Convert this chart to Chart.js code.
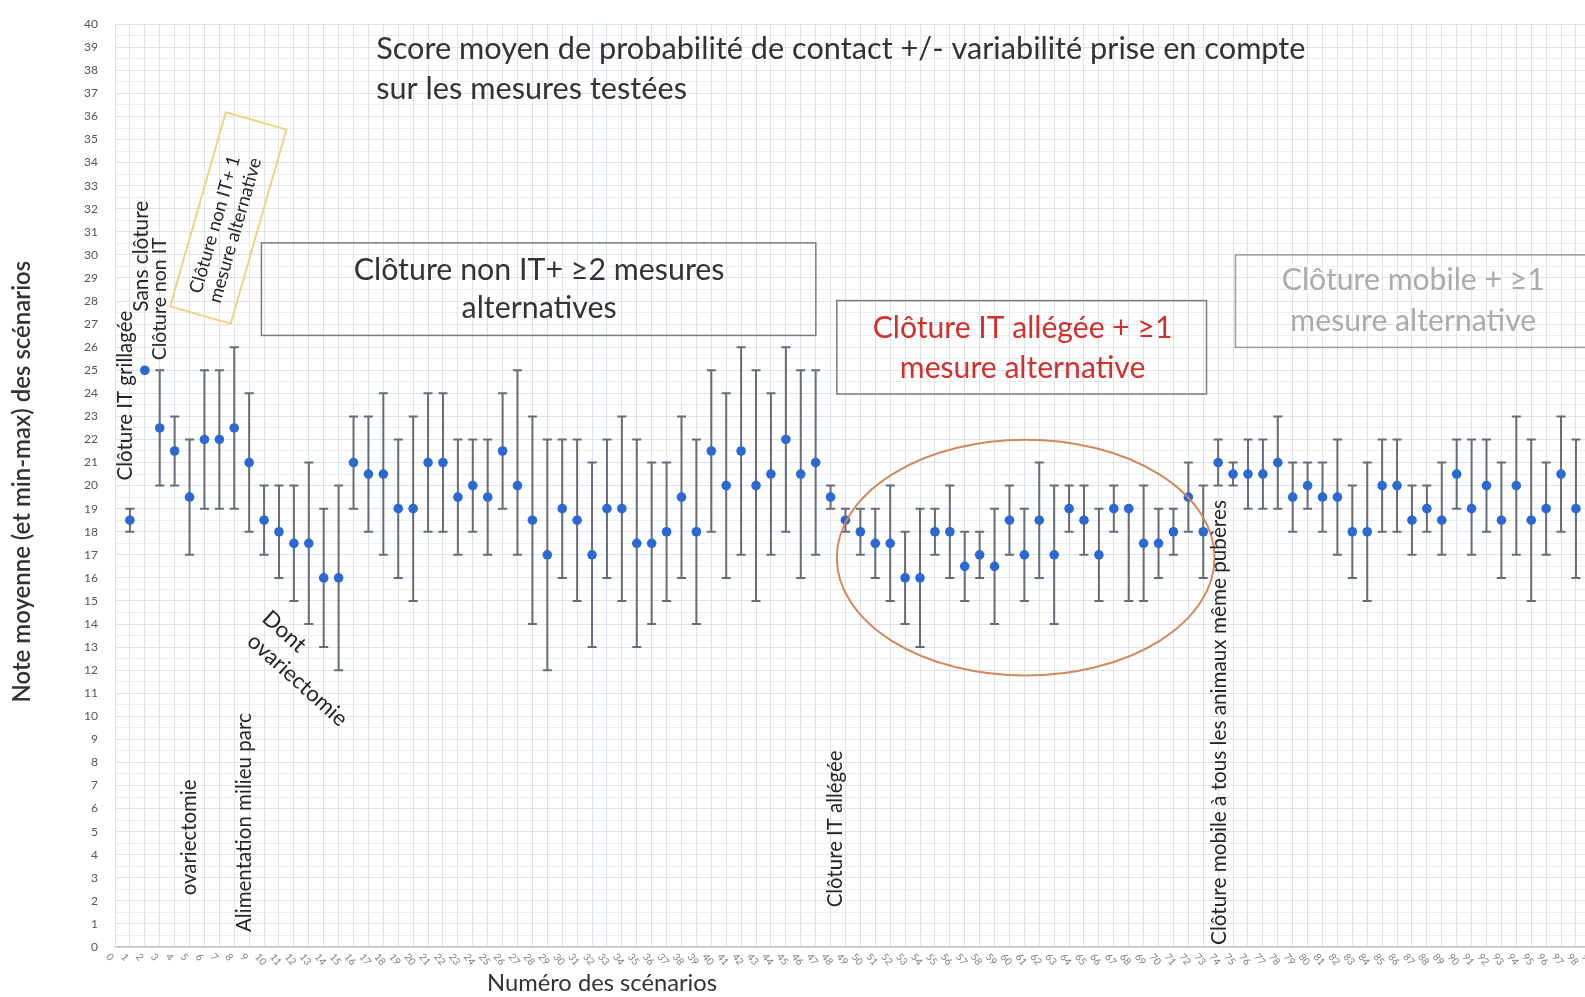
<!DOCTYPE html>
<html lang="fr">
<head>
<meta charset="utf-8">
<title>Score moyen de probabilité de contact</title>
<script src="https://cdn.jsdelivr.net/npm/chart.js@4.4.1/dist/chart.umd.min.js"></script>
<style>
  html, body { margin: 0; padding: 0; background: #fff; overflow: hidden; }
  #wrap { width: 1700px; height: 997px; }
</style>
</head>
<body>
<div id="wrap"><canvas id="chart" width="1700" height="997"></canvas></div>
<script>
// scénarios (axe x) et notes
const scenarioNo = [
  1, 2, 3, 4, 5, 6, 7, 8, 9, 10, 11, 12, 13, 14, 15, 16, 17, 18, 19, 20,
  21, 22, 23, 24, 25, 26, 27, 28, 29, 30, 31, 32, 33, 34, 35, 36, 37, 38, 39, 40,
  41, 42, 43, 44, 45, 46, 47, 48, 49, 50, 51, 52, 53, 54, 55, 56, 57, 58, 59, 60,
  61, 62, 63, 64, 65, 66, 67, 68, 69, 70, 71, 72, 73, 74, 75, 76, 77, 78, 79, 80,
  81, 82, 83, 84, 85, 86, 87, 88, 89, 90, 91, 92, 93, 94, 95, 96, 97, 98
];
const meanScore = [
  18.5, 25, 22.5, 21.5, 19.5, 22, 22, 22.5, 21, 18.5, 18, 17.5, 17.5, 16, 16, 21, 20.5, 20.5, 19, 19,
  21, 21, 19.5, 20, 19.5, 21.5, 20, 18.5, 17, 19, 18.5, 17, 19, 19, 17.5, 17.5, 18, 19.5, 18, 21.5,
  20, 21.5, 20, 20.5, 22, 20.5, 21, 19.5, 18.5, 18, 17.5, 17.5, 16, 16, 18, 18, 16.5, 17, 16.5, 18.5,
  17, 18.5, 17, 19, 18.5, 17, 19, 19, 17.5, 17.5, 18, 19.5, 18, 21, 20.5, 20.5, 20.5, 21, 19.5, 20,
  19.5, 19.5, 18, 18, 20, 20, 18.5, 19, 18.5, 20.5, 19, 20, 18.5, 20, 18.5, 19, 20.5, 19
];
const minScore = [
  18, 25, 20, 20, 17, 19, 19, 19, 18, 17, 16, 15, 14, 13, 12, 19, 18, 17, 16, 15,
  18, 18, 17, 18, 17, 19, 17, 14, 12, 16, 15, 13, 16, 15, 13, 14, 15, 16, 14, 18,
  16, 17, 15, 17, 18, 16, 17, 19, 18, 17, 16, 15, 14, 13, 17, 16, 15, 16, 14, 17,
  15, 16, 14, 18, 17, 15, 18, 15, 15, 16, 17, 18, 16, 20, 20, 19, 19, 19, 18, 19,
  18, 17, 16, 15, 18, 18, 17, 18, 17, 19, 17, 18, 16, 17, 15, 17, 18, 16
];
const maxScore = [
  19, 25, 25, 23, 22, 25, 25, 26, 24, 20, 20, 20, 21, 19, 20, 23, 23, 24, 22, 23,
  24, 24, 22, 22, 22, 24, 25, 23, 22, 22, 22, 21, 22, 23, 22, 21, 21, 23, 22, 25,
  24, 26, 25, 24, 26, 25, 25, 20, 19, 19, 19, 20, 18, 19, 19, 20, 18, 18, 19, 20,
  19, 21, 20, 20, 20, 19, 20, 19, 20, 19, 19, 21, 20, 22, 21, 22, 22, 23, 21, 21,
  21, 22, 20, 21, 22, 22, 20, 20, 21, 22, 22, 22, 21, 23, 22, 21, 23, 22
];

const titleLines = ['Score moyen de probabilité de contact +/- variabilité prise en compte', 'sur les mesures testées'];
const yTitle = 'Note moyenne (et min-max) des scénarios';
const xTitle = 'Numéro des scénarios';

const FONT = 'Lato, "Open Sans", sans-serif';

function fitSize(ctx, text, target, weight) {
  ctx.font = `${weight} 100px ${FONT}`;
  return 100 * target / ctx.measureText(text).width;
}

function boxText(ctx, lines, cx, y1, y2, size, color) {
  ctx.fillStyle = color;
  ctx.font = `${size}px ${FONT}`;
  ctx.textAlign = 'center';
  ctx.textBaseline = 'middle';
  ctx.fillText(lines[0], cx, y1);
  ctx.fillText(lines[1], cx, y2);
}

// texte vertical, taille ajustée sur la longueur
function vText(ctx, text, px, py, length) {
  const size = Math.min(21, fitSize(ctx, text, length, 'normal'));
  ctx.save();
  ctx.translate(px, py);
  ctx.rotate(-Math.PI / 2);
  ctx.font = `${size}px ${FONT}`;
  ctx.fillStyle = '#262626';
  ctx.textAlign = 'left';
  ctx.textBaseline = 'middle';
  ctx.fillText(text, 0, 0);
  ctx.restore();
}

function slantText(ctx, text, px, py, length, deg) {
  const size = fitSize(ctx, text, length, 'normal');
  ctx.save();
  ctx.font = `${size}px ${FONT}`;
  ctx.fillStyle = '#262626';
  ctx.textAlign = 'left';
  ctx.textBaseline = 'middle';
  ctx.translate(px, py);
  ctx.rotate(deg * Math.PI / 180);
  ctx.fillText(text, 0, 0);
  ctx.restore();
}

const errorBars = {
  id: 'errorBars',
  beforeDatasetsDraw(chart) {
    const { ctx, scales: { x, y } } = chart;
    ctx.save();
    ctx.strokeStyle = '#646c77';
    ctx.lineWidth = 2;
    scenarioNo.forEach((s, i) => {
      if (minScore[i] === maxScore[i]) return;
      const px = x.getPixelForValue(s);
      const top = y.getPixelForValue(maxScore[i]);
      const bot = y.getPixelForValue(minScore[i]);
      ctx.beginPath();
      ctx.moveTo(px, top); ctx.lineTo(px, bot);
      ctx.moveTo(px - 4.5, top); ctx.lineTo(px + 4.5, top);
      ctx.moveTo(px - 4.5, bot); ctx.lineTo(px + 4.5, bot);
      ctx.stroke();
    });
    ctx.restore();
  }
};

const annotations = {
  id: 'annotations',
  afterDraw(chart) {
    const { ctx, scales: { x, y }, chartArea } = chart;
    const X = (v) => x.getPixelForValue(v);
    const Y = (v) => y.getPixelForValue(v);
    ctx.save();

    // x tick labels, tilted
    ctx.font = `10px ${FONT}`;
    ctx.fillStyle = '#7d7d7d';
    ctx.textAlign = 'left';
    ctx.textBaseline = 'middle';
    x.ticks.forEach((t) => {
      ctx.save();
      ctx.translate(X(t.value) - 7, chartArea.bottom + 8);
      ctx.rotate(Math.PI * 0.28);
      ctx.fillText(String(t.value), 0, 0);
      ctx.restore();
    });

    // titre
    const ts = fitSize(ctx, titleLines[0], 930, 'normal');
    ctx.font = `${ts}px ${FONT}`;
    ctx.fillStyle = '#333';
    ctx.textAlign = 'left';
    ctx.textBaseline = 'middle';
    ctx.fillText(titleLines[0], X(17.52), Y(38.9));
    ctx.fillText(titleLines[1], X(17.52), Y(37.2));

    // cadre 1
    ctx.lineWidth = 1.5;
    ctx.strokeStyle = '#7c7c7c';
    ctx.strokeRect(X(9.82), Y(30.52), X(47.01) - X(9.82), Y(26.51) - Y(30.52));
    const s1 = fitSize(ctx, 'Clôture non IT+ ≥2 mesures', 371, 'normal');
    boxText(ctx, ['Clôture non IT+ ≥2 mesures', 'alternatives'], X(28.45), Y(29.35), Y(27.67), s1, '#333');

    // cadre 2
    ctx.strokeStyle = '#7c7c7c';
    ctx.strokeRect(X(48.42), Y(28.02), X(73.22) - X(48.42), Y(23.97) - Y(28.02));
    const s2 = fitSize(ctx, 'Clôture IT allégée + ≥1', 300, 'normal');
    boxText(ctx, ['Clôture IT allégée + ≥1', 'mesure alternative'], X(60.88), Y(26.81), Y(25.09), s2, '#d3302c');

    // cadre 3
    ctx.strokeStyle = '#9a9a9a';
    ctx.strokeRect(X(75.16), Y(30.0), X(106.5) - X(75.16), Y(25.99) - Y(30.0));
    const s3 = fitSize(ctx, 'Clôture mobile + ≥1', 263, 'normal');
    boxText(ctx, ['Clôture mobile + ≥1', 'mesure alternative'], X(87.09), Y(28.88), Y(27.11), s3, '#ababab');

    // cadre jaune incliné
    ctx.save();
    ctx.translate(X(7.6), Y(31.6));
    ctx.rotate(-74 * Math.PI / 180);
    ctx.strokeStyle = '#f1d27e';
    ctx.lineWidth = 2;
    ctx.strokeRect(-101, -31.5, 202, 63);
    const sj = fitSize(ctx, 'mesure alternative', 150, 'normal');
    ctx.font = `${sj}px ${FONT}`;
    ctx.fillStyle = '#262626';
    ctx.textAlign = 'center';
    ctx.textBaseline = 'middle';
    ctx.fillText('Clôture non IT+ 1', -10, -11);
    ctx.fillText('mesure alternative', -10, 10);
    ctx.restore();

    // ellipse
    ctx.beginPath();
    ctx.ellipse(X(61.09), Y(16.875), X(61.09 + 12.67) - X(61.09), Y(16.875 - 5.11) - Y(16.875), 0, 0, Math.PI * 2);
    ctx.strokeStyle = '#d4875a';
    ctx.lineWidth = 2;
    ctx.stroke();

    // étiquettes verticales
    vText(ctx, 'Clôture IT grillagée', X(0.70), Y(20.22), 170);
    vText(ctx, 'Sans clôture', X(1.78), Y(27.54), 111);
    vText(ctx, 'Clôture non IT', X(2.98), Y(25.43), 123);
    vText(ctx, 'ovariectomie', X(4.99), Y(2.24), 116);
    vText(ctx, 'Alimentation milieu parc', X(8.67), Y(0.65), 219);
    vText(ctx, 'Clôture IT allégée', X(48.35), Y(1.72), 157);
    vText(ctx, 'Clôture mobile à tous les animaux même pubères', X(74.09), Y(0.09), 445);

    // "Dont ovariectomie" en biais
    slantText(ctx, 'Dont', X(10.1), Y(14.4), 50, 42);
    slantText(ctx, 'ovariectomie', X(9.1), Y(13.4), 126, 42);

    // titres des axes
    ctx.save();
    ctx.translate(chartArea.left - 93, Y(20.17));
    ctx.rotate(-Math.PI / 2);
    const sy = fitSize(ctx, yTitle, 442, '600');
    ctx.font = `600 ${sy}px ${FONT}`;
    ctx.fillStyle = '#333';
    ctx.textAlign = 'center';
    ctx.textBaseline = 'middle';
    ctx.fillText(yTitle, 0, 0);
    ctx.restore();

    const sx = fitSize(ctx, xTitle, 230, 'normal');
    ctx.font = `${sx}px ${FONT}`;
    ctx.fillStyle = '#333';
    ctx.textAlign = 'center';
    ctx.textBaseline = 'middle';
    ctx.fillText(xTitle, X(32.67), chartArea.bottom + 36);

    ctx.restore();
  }
};

new Chart(document.getElementById('chart'), {
  type: 'scatter',
  data: {
    datasets: [{
      data: scenarioNo.map((s, i) => ({ x: s, y: meanScore[i] })),
      pointRadius: 4.8,
      pointBackgroundColor: '#2c68d2',
      pointBorderWidth: 0,
    }],
  },
  options: {
    responsive: false,
    animation: false,
    layout: { padding: { top: 19, right: 3, left: 0, bottom: 0 } },
    plugins: { legend: { display: false }, tooltip: { enabled: false } },
    scales: {
      x: {
        type: 'linear', min: 0, max: 106,
        ticks: { stepSize: 1, display: false, autoSkip: false },
        grid: { color: '#dde3eb', drawTicks: false },
        border: { color: '#c3c8cf', width: 1.5 },
        afterFit: (s) => { s.height = 50; },
      },
      y: {
        min: 0, max: 40,
        ticks: {
          stepSize: 0.5, autoSkip: false, padding: 17,
          callback: (v) => (Number.isInteger(v) ? v : ''),
          font: { family: FONT, size: 12 }, color: '#555',
        },
        grid: {
          drawTicks: false,
          color: (c) => (Number.isInteger(c.tick.value) ? '#dde3eb' : '#eaeef3'),
        },
        border: { color: '#dde3eb' },
        afterFit: (s) => { s.width = 115; },
      },
    },
  },
  plugins: [errorBars, annotations],
});
</script>
</body>
</html>
